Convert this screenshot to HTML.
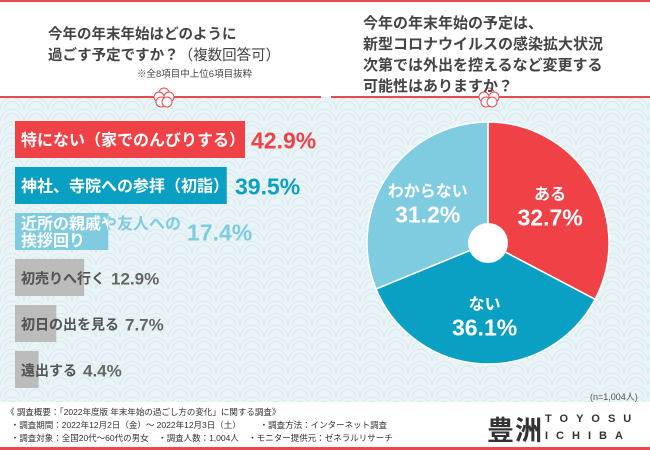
<!DOCTYPE html>
<html><head><meta charset="utf-8"><style>
body{margin:0;width:650px;height:450px;overflow:hidden;font-family:"Liberation Sans","Noto Sans CJK JP",sans-serif;background:#fff;position:relative}
.abs{position:absolute}
.t{font-weight:bold;color:#444}
</style></head><body>
<div class="abs" style="left:0;top:0;width:650px;height:2px;background:#e84a4e"></div>
<div class="abs" style="left:0;top:97px;width:650px;height:305px;background-color:#eaf4f7;background-image:radial-gradient(circle at 50% 100%,transparent 7px,#d6eaf0 7px,#d6eaf0 8px,transparent 8px,transparent 11px,#d6eaf0 11px,#d6eaf0 12px,transparent 12px);background-size:24px 12px"></div>
<div class="abs" style="left:0;top:96px;width:321px;height:2px;background:#e84a4e"></div>
<div class="abs" style="left:331px;top:96px;width:319px;height:2px;background:#e84a4e"></div>
<svg class="abs" style="left:153px;top:87px" width="22" height="22"><g fill="#fff" stroke="#e84a4e" stroke-width="1"><circle cx="11" cy="6" r="5"/><circle cx="6" cy="10" r="5"/><circle cx="16" cy="10" r="5"/><circle cx="8" cy="15" r="5"/><circle cx="14" cy="15" r="5"/></g></svg>
<svg class="abs" style="left:478px;top:87px" width="22" height="22"><g fill="#fff" stroke="#e84a4e" stroke-width="1"><circle cx="11" cy="6" r="5"/><circle cx="6" cy="10" r="5"/><circle cx="16" cy="10" r="5"/><circle cx="8" cy="15" r="5"/><circle cx="14" cy="15" r="5"/></g></svg>
<div class="abs t" style="left:48px;top:25px;font-size:14.5px;line-height:21px">今年の年末年始はどのように<br>過ごす予定ですか？<span style="font-weight:normal">（複数回答可）</span></div>
<div class="abs" style="left:137px;top:66px;font-size:9.5px;color:#444">※全8項目中上位6項目抜粋</div>
<div class="abs t" style="left:363px;top:13px;font-size:15px;line-height:21px">今年の年末年始の予定は、<br>新型コロナウイルスの感染拡大状況<br>次第では外出を控えるなど変更する<br>可能性はありますか？</div>
<svg class="abs" style="left:0;top:0" width="650" height="450" id="chart"></svg>
<div class="abs" style="left:590px;top:390px;font-size:9px;color:#555">(n=1,004人)</div>
<div class="abs" style="left:6px;top:406px;font-size:8.5px;color:#333;line-height:13px;white-space:pre">《 調査概要：「2022年度版 年末年始の過ごし方の変化」に関する調査》
  ・調査期間：2022年12月2日（金）～ 2022年12月3日（土）        ・調査方法：インターネット調査
  ・調査対象：全国20代～60代の男女    ・調査人数：1,004人    ・モニター提供元：ゼネラルリサーチ</div>
<div class="abs" style="left:487px;top:409px;font-size:27px;font-weight:bold;color:#333;letter-spacing:1px">豊洲</div>
<div class="abs" style="left:545px;top:411px;font-size:11px;font-weight:bold;color:#333;letter-spacing:8px;line-height:17px">TOYOSU<br>ICHIBA</div>
<div class="abs" style="left:0;top:447px;width:650px;height:3px;background:#e84a4e"></div>
<script>
const barLabels=["特にない（家でのんびりする）","神社、寺院への参拝（初詣）","近所の親戚や友人への\n挨拶回り","初売りへ行く","初日の出を見る","遠出する"];
const barValues=[42.9,39.5,17.4,12.9,7.7,4.4];
const barColors=["#ef4146","#0aa0c4","#7fcbe0","#bcbcbc","#bcbcbc","#bcbcbc"];
const pieLabels=["ある","ない","わからない"];
const pieValues=[32.7,36.1,31.2];
const pieColors=["#ef4146","#0aa0c4","#7fcbe0"];
const NS="http://www.w3.org/2000/svg";
const svg=document.getElementById("chart");
function mk(t,a,par){const e=document.createElementNS(NS,t);for(const k in a)e.setAttribute(k,a[k]);(par||svg).appendChild(e);return e;}
const defs=mk("defs",{});
const x0=15,scale=230/42.9;
const xs=v=>v*scale;
const yb=i=>121+i*46;
barValues.forEach((v,i)=>{
 const w=xs(v),y=yb(i),h=37;
 const r=mk("rect",{x:x0,y:y,width:w,height:h,fill:barColors[i]});
 
 
 const cp=mk("clipPath",{id:"cp"+i},defs);
 mk("rect",{x:x0,y:y,width:w,height:h},cp);
 const lines=barLabels[i].split("\n");
 const fs=i<2?16:(i==2?16:14);
 const outCol=i<3?barColors[i]:"#555";
 const inCol=i<3?"#fff":"#555";
 let maxEnd=x0+w;
 lines.forEach((ln,j)=>{
  const ty=y+h/2+6+(lines.length>1?(j-0.5)*17:0);
  const t=mk("text",{x:x0+6,y:ty,fill:outCol,"font-size":fs,"font-weight":"bold"});
  t.textContent=ln;
  
  
  const t2=mk("text",{x:x0+6,y:ty,fill:inCol,"font-size":fs,"font-weight":"bold","clip-path":"url(#cp"+i+")"});
  t2.textContent=ln;
  
  
  maxEnd=Math.max(maxEnd,x0+6+t.getComputedTextLength());
 });
 const tx=maxEnd+6;
 const vc=i<3?barColors[i]:"#666";
 const p=mk("text",{x:tx,y:y+h/2+(i<3?9:7),fill:vc,"font-size":i<3?23:17,"font-weight":"bold"});
 p.textContent=v.toFixed(1)+"%";
 
 
});
const cx=488,cy=243,R=121;
const tot=pieValues.reduce((a,b)=>a+b,0);
let a=0;
pieValues.forEach((v,i)=>{
 const a1=a+v/tot*2*Math.PI;
 const p=(t,r)=>[cx+r*Math.sin(t),cy-r*Math.cos(t)];
 const [sx,sy]=p(a,R),[ex,ey]=p(a1,R);
 const s=mk("path",{d:`M${cx},${cy}L${sx},${sy}A${R},${R} 0 ${a1-a>Math.PI?1:0} 1 ${ex},${ey}Z`,fill:pieColors[i],stroke:"#fff","stroke-width":1.5});
 
 
 const m=(a+a1)/2;const [lx,ly]=p(m,R*0.6);
 const t1=mk("text",{x:lx,y:ly-6,fill:"#fff","font-size":16,"font-weight":"bold","text-anchor":"middle"});
 t1.textContent=pieLabels[i];
 
 
 const t2=mk("text",{x:lx,y:ly+20,fill:"#fff","font-size":23,"font-weight":"bold","text-anchor":"middle"});
 t2.textContent=v.toFixed(1)+"%";
 
 
 a=a1;
});
const hole=mk("circle",{cx:cx,cy:cy,r:20,fill:"#fff"});


</script>
</body></html>
